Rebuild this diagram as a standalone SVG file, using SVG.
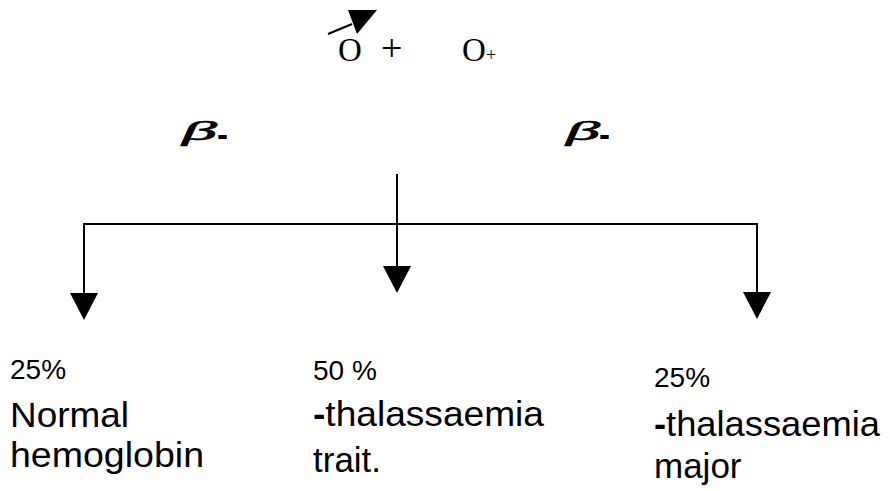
<svg xmlns="http://www.w3.org/2000/svg" width="890" height="491" viewBox="0 0 890 491">
<style>
.serif{font-family:"Liberation Serif","Times New Roman",serif;fill:#000}
.beta{font-family:"Liberation Serif","Times New Roman",serif;font-style:italic;font-weight:normal;font-size:27px;fill:#000;stroke:#000;stroke-width:0.6}
.dash{font-family:"Liberation Sans",Arial,sans-serif;font-weight:bold;font-size:33px;fill:#000}
.sans{font-family:"Liberation Sans",Arial,sans-serif;fill:#000}
.pct{font-size:28px}
.lbl{font-size:35px}
.ln{stroke:#000;stroke-width:2;fill:none}
.ah{fill:#000}
</style>
<rect width="890" height="491" fill="#fff"/>
<g id="parents">
  <text class="serif" x="338" y="61" font-size="33">O</text>
  <text class="serif" x="381" y="61" font-size="38">+</text>
  <text class="serif" x="462" y="61" font-size="33">O</text>
  <text class="serif" x="486" y="61" font-size="18">+</text>
  <line class="ln" x1="328" y1="34" x2="352" y2="24"/>
  <polygon class="ah" points="348,10 377,10 357,34"/>
</g>
<g id="beta-left">
  <text class="beta" x="182" y="140" textLength="35" lengthAdjust="spacingAndGlyphs">β</text>
  <text class="dash" x="217" y="146">-</text>
</g>
<g id="beta-right">
  <text class="beta" x="566" y="140" textLength="34" lengthAdjust="spacingAndGlyphs">β</text>
  <text class="dash" x="599" y="146">-</text>
</g>
<g id="connectors">
  <line class="ln" x1="397" y1="174" x2="397" y2="268"/>
  <polygon class="ah" points="383,266 411,266 397,293"/>
  <polyline class="ln" points="84,294 84,224 757,224 757,293"/>
  <polygon class="ah" points="70,293 98,293 84,320"/>
  <polygon class="ah" points="743,292 771,292 757,319"/>
</g>
<g id="normal">
  <text class="sans pct" x="10" y="379">25%</text>
  <text class="sans lbl" x="10" y="427" textLength="119" lengthAdjust="spacingAndGlyphs">Normal</text>
  <text class="sans lbl" x="10" y="467" textLength="194" lengthAdjust="spacingAndGlyphs">hemoglobin</text>
</g>
<g id="trait">
  <text class="sans pct" x="313" y="380">50 %</text>
  <text class="sans lbl" x="313" y="426" textLength="231" lengthAdjust="spacingAndGlyphs"><tspan font-weight="bold">-</tspan>thalassaemia</text>
  <text class="sans lbl" x="313" y="472">trait.</text>
</g>
<g id="major">
  <text class="sans pct" x="654" y="387">25%</text>
  <text class="sans lbl" x="654" y="436" textLength="226" lengthAdjust="spacingAndGlyphs"><tspan font-weight="bold">-</tspan>thalassaemia</text>
  <text class="sans lbl" x="654" y="478">major</text>
</g>
</svg>
